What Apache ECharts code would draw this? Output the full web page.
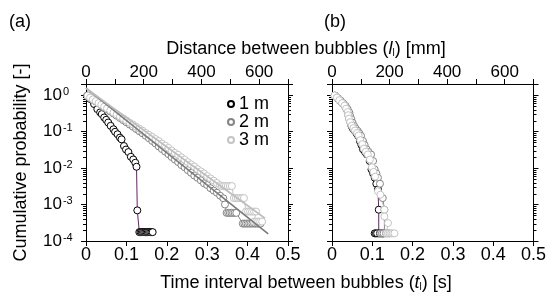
<!DOCTYPE html>
<html>
<head>
<meta charset="utf-8">
<script src="https://cdn.jsdelivr.net/npm/echarts@6/dist/echarts.min.js"></script>
<style>
  html, body { margin: 0; padding: 0; background: #fff; }
  #main { width: 549px; height: 296px; }
</style>
</head>
<body>
<div id="main"></div>
<script>
// panel (a): time interval [s] vs cumulative probability
var t1a = [0.003, 0.010, 0.020, 0.028, 0.035, 0.039, 0.045, 0.050, 0.055, 0.061, 0.068, 0.072, 0.078, 0.084, 0.088, 0.094, 0.099, 0.105, 0.111, 0.117, 0.122, 0.125, 0.127,
  0.132, 0.135, 0.138, 0.141, 0.144, 0.147, 0.150, 0.153, 0.156, 0.159, 0.162, 0.165];
var p1a = [0.96, 0.78, 0.565, 0.41, 0.333, 0.30, 0.242, 0.209, 0.176, 0.143, 0.115, 0.098, 0.084, 0.068, 0.061, 0.040, 0.032, 0.0273, 0.0203, 0.0171, 0.0139, 0.0108, 0.00069,
  0.000175, 0.000175, 0.000175, 0.000175, 0.000175, 0.000175, 0.000175, 0.000175, 0.000175, 0.000175, 0.000175, 0.000175];

var t2a = [0.004, 0.010, 0.017, 0.024, 0.031, 0.038, 0.045, 0.052, 0.060, 0.068, 0.076, 0.084, 0.092, 0.100, 0.108, 0.116, 0.124, 0.132, 0.140, 0.148,
  0.156, 0.164, 0.172, 0.180, 0.188, 0.196, 0.204, 0.212, 0.220, 0.228, 0.236, 0.244, 0.252, 0.260, 0.268, 0.276, 0.284, 0.292, 0.300, 0.308,
  0.316, 0.324, 0.332, 0.340, 0.344,
  0.348, 0.352, 0.356, 0.360, 0.364, 0.368, 0.372,
  0.388, 0.392, 0.396, 0.400, 0.404, 0.408, 0.412, 0.416, 0.420, 0.424, 0.428, 0.432];
var p2a = [0.93, 0.83, 0.74, 0.66, 0.59, 0.525, 0.457, 0.407, 0.355, 0.31, 0.27, 0.234, 0.204, 0.178, 0.155, 0.135, 0.117, 0.102, 0.089, 0.076,
  0.065, 0.055, 0.047, 0.039, 0.033, 0.028, 0.024, 0.020, 0.017, 0.0145, 0.012, 0.0105, 0.0087, 0.0074, 0.0062, 0.0054, 0.0046, 0.0038, 0.0034, 0.0028,
  0.0024, 0.0021, 0.00174, 0.00148, 0.0010,
  0.00059, 0.00059, 0.00059, 0.00059, 0.00059, 0.00059, 0.00059,
  0.00030, 0.00030, 0.00030, 0.00030, 0.00030, 0.00030, 0.00030, 0.00030, 0.00030, 0.00030, 0.00030, 0.00030];

var t3a = [0.004, 0.010, 0.017, 0.024, 0.031, 0.038, 0.045, 0.052, 0.060, 0.068, 0.076, 0.084, 0.092, 0.100, 0.108, 0.116, 0.124, 0.132, 0.140, 0.148,
  0.156, 0.164, 0.172, 0.180, 0.188, 0.196, 0.204, 0.212, 0.220, 0.228, 0.236, 0.244, 0.252, 0.260, 0.268, 0.276, 0.284, 0.292, 0.300, 0.308,
  0.316, 0.324, 0.332,
  0.336, 0.341, 0.346, 0.351, 0.356, 0.361,
  0.366, 0.371, 0.376, 0.381, 0.386, 0.391,
  0.396, 0.401, 0.406, 0.411, 0.416, 0.421,
  0.416, 0.421, 0.426, 0.431, 0.436];
var p3a = [0.955, 0.85, 0.76, 0.68, 0.60, 0.54, 0.48, 0.43, 0.38, 0.33, 0.295, 0.257, 0.229, 0.20, 0.174, 0.155, 0.135, 0.12, 0.105, 0.091,
  0.081, 0.071, 0.062, 0.055, 0.047, 0.041, 0.0355, 0.030, 0.026, 0.023, 0.0195, 0.017, 0.0145, 0.0126, 0.011, 0.0093, 0.0081, 0.0071, 0.006, 0.0052,
  0.0045, 0.0039, 0.0034,
  0.0032, 0.0032, 0.0032, 0.0032, 0.0032, 0.0032,
  0.0015, 0.0015, 0.0015, 0.0015, 0.0015, 0.0015,
  0.00064, 0.00064, 0.00064, 0.00064, 0.00064, 0.00064,
  0.00034, 0.00034, 0.00034, 0.00034, 0.00034];

// fitted lines (start / end points)
var fit2t = [0, 0.451];
var fit2p = [1.53, 0.000156];
var fit3t = [0, 0.443];
var fit3p = [1.53, 0.00042];

// panel (b)
var t1b = [0.007, 0.014, 0.020, 0.026, 0.032, 0.036, 0.040, 0.041, 0.043, 0.046, 0.0485, 0.052, 0.0567, 0.061, 0.065, 0.069, 0.073, 0.077, 0.082, 0.087,
  0.0936, 0.098, 0.102, 0.106, 0.110, 0.114, 0.116,
  0.116, 0.106, 0.109, 0.112, 0.119, 0.122, 0.125, 0.128];
var p1b = [0.955, 0.813, 0.692, 0.589, 0.501, 0.407, 0.331, 0.269, 0.219, 0.174, 0.141, 0.120, 0.1035, 0.089, 0.076, 0.055, 0.0427, 0.0324, 0.0275, 0.0234,
  0.0155, 0.0091, 0.0071, 0.0054, 0.0037, 0.0026, 0.00072,
  0.000162, 0.000162, 0.000162, 0.000162, 0.000162, 0.000162, 0.000162, 0.000162];

var t2b = [0.008, 0.015, 0.022, 0.028, 0.034, 0.039, 0.043, 0.045, 0.048, 0.051, 0.055, 0.059, 0.064, 0.068, 0.072, 0.077, 0.081, 0.086, 0.091, 0.097,
  0.102, 0.106, 0.110, 0.114, 0.119, 0.126, 0.130,
  0.130, 0.120, 0.124, 0.128, 0.134, 0.138, 0.142];
var p2b = [0.955, 0.813, 0.692, 0.589, 0.501, 0.407, 0.331, 0.269, 0.219, 0.174, 0.141, 0.120, 0.1035, 0.089, 0.076, 0.055, 0.0427, 0.0324, 0.0275, 0.0234,
  0.0155, 0.0091, 0.0071, 0.0054, 0.0037, 0.0015, 0.00072,
  0.000162, 0.000162, 0.000162, 0.000162, 0.000162, 0.000162, 0.000162];

var t3b = [0.006, 0.012, 0.018, 0.025, 0.031, 0.035, 0.039, 0.040, 0.042, 0.045, 0.049, 0.053, 0.057, 0.062, 0.066, 0.070, 0.075, 0.079, 0.084, 0.089,
  0.094, 0.099, 0.103, 0.107, 0.114, 0.120, 0.130, 0.130, 0.139,
  0.135, 0.139, 0.143, 0.147, 0.151, 0.155];
var p3b = [0.97, 0.85, 0.72, 0.60, 0.51, 0.42, 0.34, 0.28, 0.225, 0.18, 0.145, 0.124, 0.106, 0.091, 0.078, 0.058, 0.045, 0.034, 0.028, 0.0235,
  0.017, 0.0105, 0.0078, 0.0058, 0.0023, 0.00186, 0.00072, 0.00047, 0.00031,
  0.000162, 0.000162, 0.000162, 0.000162, 0.000162, 0.000162];

// axis ticks
var timeTicks = [0, 0.5, 0.1];
var distTicks = [0, 700, 100];
var yRange = [0.0001, 2];
var minorY = [];
[0.0001, 0.001, 0.01, 0.1].forEach(function (d) {
  for (var k = 2; k <= 9; k++) minorY.push(+(d * k).toPrecision(2));
});

var FONT = '"Liberation Sans", Arial, sans-serif';

function zip(a, b) { return a.map(function (v, i) { return [v, b[i]]; }); }

var chart = echarts.init(document.getElementById('main'));

function timeAxis(g) {
  return {
    type: 'value', gridIndex: g, position: 'bottom',
    min: timeTicks[0], max: timeTicks[1], interval: timeTicks[2],
    axisLine: { onZero: false, lineStyle: { color: '#000', width: 1 } },
    axisTick: { length: 5, lineStyle: { color: '#000' } },
    axisLabel: { color: '#000', fontSize: 18, fontFamily: FONT, margin: 5,
      formatter: function (v) { return v === 0 ? '0' : v.toFixed(1); } },
    splitLine: { show: false }
  };
}
function distAxis(g) {
  return {
    type: 'value', gridIndex: g, position: 'top',
    min: distTicks[0], max: distTicks[1], interval: distTicks[2],
    axisLine: { onZero: false, lineStyle: { color: '#000', width: 1 } },
    axisTick: { length: 5, lineStyle: { color: '#000' } },
    axisLabel: { color: '#000', fontSize: 17, fontFamily: FONT, margin: 3,
      formatter: function (v) { return v % 200 === 0 ? String(v) : ''; } },
    splitLine: { show: false }
  };
}
function probAxis(g, pos, labels) {
  var ax = {
    type: 'log', gridIndex: g, position: pos,
    min: yRange[0], max: yRange[1],
    axisLine: { show: true, onZero: false, lineStyle: { color: '#000', width: 1 } },
    axisTick: { show: true, length: 5, lineStyle: { color: '#000' } },
    axisLabel: { show: labels, color: '#000', fontFamily: FONT, align: 'left', margin: 43,
      formatter: function (v) {
        var e = Math.log10(v);
        if (Math.abs(e - Math.round(e)) > 1e-6) return '';
        return '{b|10}{s|' + Math.round(e) + '}';
      },
      rich: {
        b: { fontSize: 17, fontFamily: FONT, color: '#000' },
        s: { fontSize: 11, fontFamily: FONT, color: '#000', verticalAlign: 'top', padding: [0, 0, 7, 1] }
      }
    },
    splitLine: { show: false }
  };
  if (labels) {
    ax.name = 'Cumulative probability [-]';
    ax.nameLocation = 'middle';
    ax.nameRotate = 90;
    ax.nameGap = 56;
    ax.nameTextStyle = { fontSize: 18, fontFamily: FONT, color: '#000' };
  }
  return ax;
}

function dataSeries(name, xi, yi, data, stroke, lineColor) {
  return {
    name: name, type: 'line', xAxisIndex: xi, yAxisIndex: yi,
    data: data, symbol: 'circle', symbolSize: 7, showSymbol: true,
    lineStyle: { color: lineColor, width: 1 },
    itemStyle: { color: '#fff', borderColor: stroke, borderWidth: 1 },
    z: 3
  };
}
function fitSeries(xi, yi, data, color) {
  return {
    type: 'line', xAxisIndex: xi, yAxisIndex: yi, data: data,
    showSymbol: false, symbol: 'none', lineStyle: { color: color, width: 1.6 }, z: 4
  };
}
// short log-decade minor ticks on both vertical sides of a panel
function minorTicks(xi, yi) {
  return {
    type: 'custom', xAxisIndex: xi, yAxisIndex: yi, clip: false, silent: true,
    data: minorY.map(function (v) { return [0, v]; }),
    renderItem: function (params, api) {
      var y = api.value(1);
      var a = api.coord([timeTicks[0], y]);
      var b = api.coord([timeTicks[1], y]);
      var yy = Math.round(a[1]) + 0.5;
      var st = { stroke: '#000', lineWidth: 1 };
      return {
        type: 'group',
        children: [
          { type: 'line', shape: { x1: a[0] - 3, y1: yy, x2: a[0], y2: yy }, style: st },
          { type: 'line', shape: { x1: b[0], y1: yy, x2: b[0] + 3, y2: yy }, style: st }
        ]
      };
    },
    z: 1
  };
}

var C1 = '#000', C2 = '#858585', C3 = '#c4c4c4', PURPLE = '#6a1f6a';

chart.setOption({
  animation: false,
  backgroundColor: '#fff',
  textStyle: { fontFamily: FONT },
  grid: [
    { left: 86, top: 84, width: 202, height: 157 },
    { left: 332, top: 84, width: 203, height: 157 }
  ],
  xAxis: [timeAxis(0), distAxis(0), timeAxis(1), distAxis(1)],
  yAxis: [probAxis(0, 'left', true), probAxis(0, 'right', false), probAxis(1, 'left', false), probAxis(1, 'right', false)],
  legend: {
    data: ['1 m', '2 m', '3 m'],
    orient: 'vertical', left: 222, top: 90,
    icon: 'circle', itemWidth: 6, itemHeight: 6, itemGap: 0,
    textStyle: { fontSize: 18, fontFamily: FONT, color: '#000', lineHeight: 15 },
    itemStyle: { borderWidth: 2 }
  },
  graphic: [
    { type: 'text', x: 9, y: 22, style: { text: '(a)', font: '18px ' + FONT, fill: '#000', verticalAlign: 'middle' } },
    { type: 'text', x: 324, y: 22, style: { text: '(b)', font: '18px ' + FONT, fill: '#000', verticalAlign: 'middle' } },
    { type: 'text', x: 306, y: 49, style: {
        text: 'Distance between bubbles ({i|l}{u|l}) [mm]', font: '18px ' + FONT, fill: '#000', align: 'center', verticalAlign: 'middle',
        rich: { i: { fontStyle: 'italic', fontSize: 18, fontFamily: FONT }, u: { fontSize: 10, fontFamily: FONT, verticalAlign: 'bottom', padding: [5, 0, 0, 0] } } } },
    { type: 'text', x: 306, y: 283, style: {
        text: 'Time interval between bubbles ({i|t}{u|l}) [s]', font: '18px ' + FONT, fill: '#000', align: 'center', verticalAlign: 'middle',
        rich: { i: { fontStyle: 'italic', fontSize: 18, fontFamily: FONT }, u: { fontSize: 10, fontFamily: FONT, verticalAlign: 'bottom', padding: [5, 0, 0, 0] } } } }
  ],
  series: [
    minorTicks(0, 0),
    minorTicks(2, 2),
    dataSeries('1 m', 0, 0, zip(t1a, p1a), C1, PURPLE),
    dataSeries('2 m', 0, 0, zip(t2a, p2a), C2, C2),
    dataSeries('3 m', 0, 0, zip(t3a, p3a), C3, C3),
    fitSeries(0, 0, zip(fit2t, fit2p), '#7a7a7a'),
    fitSeries(0, 0, zip(fit3t, fit3p), '#bdbdbd'),
    dataSeries('1 m', 2, 2, zip(t1b, p1b), C1, PURPLE),
    dataSeries('2 m', 2, 2, zip(t2b, p2b), C2, C2),
    dataSeries('3 m', 2, 2, zip(t3b, p3b), C3, C3)
  ]
});
</script>
</body>
</html>
